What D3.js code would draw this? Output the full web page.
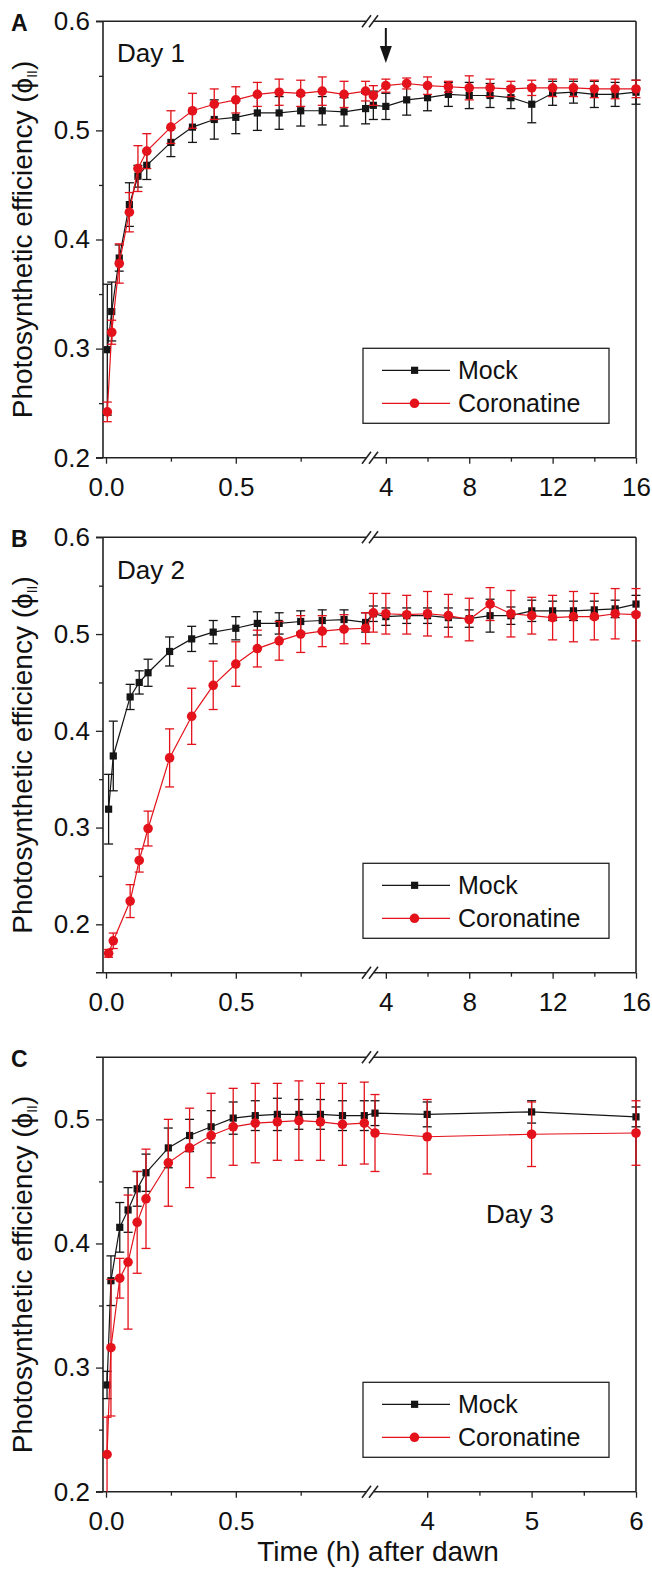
<!DOCTYPE html>
<html>
<head>
<meta charset="utf-8">
<script src="https://cdn.jsdelivr.net/npm/d3@7"></script>
<style>
  body { margin: 0; background: #fff; }
  text { font-family: "Liberation Sans", Arial, sans-serif; fill: #111; }
</style>
</head>
<body>
<svg id="chart" width="652" height="1569"></svg>
<script>
// ---- data (hours after dawn, phi II, +/- error) ----
var timesA = [0.005, 0.022, 0.051, 0.09, 0.123, 0.157, 0.25, 0.333, 0.417, 0.5, 0.583, 0.667, 0.75, 0.833, 0.917, 1.0,
  3.4, 4, 5, 6, 7, 8, 9, 10, 11, 12, 13, 14, 15, 16];
var mockA = [0.299, 0.334, 0.383, 0.432, 0.458, 0.468, 0.489, 0.503, 0.510, 0.512, 0.516, 0.516, 0.518, 0.518, 0.517, 0.520,
  0.523, 0.522, 0.528, 0.530, 0.533, 0.532, 0.532, 0.530, 0.524, 0.534, 0.535, 0.533, 0.533, 0.535];
var mockAErr = [0.060, 0.027, 0.012, 0.020, 0.010, 0.013, 0.013, 0.014, 0.018, 0.015, 0.016, 0.015, 0.014, 0.013, 0.013, 0.014,
  0.013, 0.012, 0.014, 0.012, 0.011, 0.012, 0.011, 0.010, 0.017, 0.011, 0.010, 0.012, 0.011, 0.011];
var coroA = [0.242, 0.315, 0.378, 0.425, 0.465, 0.481, 0.503, 0.518, 0.524, 0.528, 0.533, 0.535, 0.534, 0.536, 0.533, 0.536,
  0.532, 0.541, 0.543, 0.541, 0.540, 0.539, 0.539, 0.538, 0.539, 0.539, 0.539, 0.538, 0.538, 0.538];
var coroAErr = [0.009, 0.011, 0.018, 0.018, 0.021, 0.016, 0.015, 0.016, 0.014, 0.012, 0.011, 0.012, 0.012, 0.013, 0.012, 0.009,
  0.009, 0.006, 0.005, 0.008, 0.005, 0.011, 0.008, 0.007, 0.007, 0.008, 0.008, 0.008, 0.009, 0.008];

var timesB = [0.01, 0.028, 0.093, 0.128, 0.162, 0.245, 0.33, 0.413, 0.5, 0.583, 0.667, 0.75, 0.833, 0.917, 1.0,
  3.4, 4, 5, 6, 7, 8, 9, 10, 11, 12, 13, 14, 15, 16];
var mockB = [0.319, 0.374, 0.435, 0.450, 0.460, 0.482, 0.495, 0.502, 0.506, 0.511, 0.511, 0.513, 0.514, 0.515, 0.512,
  0.521, 0.518, 0.519, 0.519, 0.517, 0.516, 0.519, 0.519, 0.524, 0.524, 0.524, 0.525, 0.526, 0.531];
var mockBErr = [0.036, 0.036, 0.013, 0.012, 0.014, 0.015, 0.013, 0.012, 0.012, 0.012, 0.011, 0.011, 0.011, 0.010, 0.010,
  0.008, 0.009, 0.008, 0.008, 0.010, 0.009, 0.017, 0.009, 0.011, 0.010, 0.010, 0.009, 0.009, 0.009];
var coroB = [0.170, 0.183, 0.224, 0.266, 0.299, 0.372, 0.415, 0.447, 0.469, 0.485, 0.493, 0.500, 0.503, 0.505, 0.506,
  0.522, 0.521, 0.520, 0.521, 0.519, 0.515, 0.531, 0.521, 0.519, 0.517, 0.518, 0.518, 0.521, 0.520];
var coroBErr = [0.004, 0.008, 0.017, 0.012, 0.018, 0.030, 0.029, 0.025, 0.023, 0.019, 0.020, 0.019, 0.016, 0.015, 0.016,
  0.020, 0.021, 0.020, 0.023, 0.022, 0.022, 0.017, 0.024, 0.019, 0.023, 0.026, 0.024, 0.026, 0.027];

var timesC = [0.004, 0.019, 0.053, 0.085, 0.12, 0.154, 0.24, 0.322, 0.405, 0.49, 0.575, 0.66, 0.743, 0.826, 0.911, 0.995,
  3.5, 4, 5, 6];
var mockC = [0.286, 0.370, 0.413, 0.427, 0.444, 0.457, 0.477, 0.487, 0.494, 0.501, 0.503, 0.504, 0.504, 0.504, 0.503, 0.503,
  0.505, 0.504, 0.506, 0.502];
var mockCErr = [0.011, 0.020, 0.020, 0.018, 0.014, 0.015, 0.016, 0.013, 0.013, 0.013, 0.012, 0.013, 0.012, 0.012, 0.012, 0.012,
  0.010, 0.010, 0.009, 0.008];
var coroC = [0.230, 0.316, 0.372, 0.385, 0.417, 0.436, 0.465, 0.477, 0.487, 0.494, 0.497, 0.498, 0.499, 0.498, 0.496, 0.497,
  0.489, 0.486, 0.488, 0.489];
var coroCErr = [0.030, 0.055, 0.016, 0.054, 0.041, 0.040, 0.035, 0.032, 0.034, 0.031, 0.032, 0.031, 0.032, 0.031, 0.033, 0.033,
  0.031, 0.030, 0.026, 0.026];

var seriesNames = ["Mock", "Coronatine"];
var dayLabels = ["Day 1", "Day 2", "Day 3"];
var panelLetters = ["A", "B", "C"];
var leftTicks = [0, 0.5], leftMinor = [0.25, 0.75];
var rightTicksAB = [4, 8, 12, 16], rightMinorAB = [6, 10, 14];
var rightTicksC = [4, 5, 6], rightMinorC = [4.5, 5.5];

// ---- layout ----
var svg = d3.select("#chart");
var xL = 103, xBreak = 370, xR = 636;
var black = "#151515", red = "#e3121b", axisCol = "#222";

var panels = [
  { top: 21.3, bottom: 457.7, yDom: [0.2, 0.6], yTicks: [0.2, 0.3, 0.4, 0.5, 0.6], yMinor: [0.25, 0.35, 0.45, 0.55],
    rDom: [3.24, 16], rTicks: rightTicksAB, rMinor: rightMinorAB, t: timesA,
    mock: mockA, mockErr: mockAErr, coro: coroA, coroErr: coroAErr, dayX: 117, dayY: 62, arrow: 4 },
  { top: 537.3, bottom: 972.7, yDom: [0.15, 0.6], yTicks: [0.2, 0.3, 0.4, 0.5, 0.6], yMinor: [0.25, 0.35, 0.45, 0.55],
    rDom: [3.24, 16], rTicks: rightTicksAB, rMinor: rightMinorAB, t: timesB,
    mock: mockB, mockErr: mockBErr, coro: coroB, coroErr: coroBErr, dayX: 117, dayY: 579 },
  { top: 1057.3, bottom: 1491.7, yDom: [0.2, 0.55], yTicks: [0.2, 0.3, 0.4, 0.5], yMinor: [0.25, 0.35, 0.45],
    rDom: [3.452, 6], rTicks: rightTicksC, rMinor: rightMinorC, t: timesC,
    mock: mockC, mockErr: mockCErr, coro: coroC, coroErr: coroCErr, dayX: 486, dayY: 1223 }
];

panels.forEach(function (p, i) {
  var g = svg.append("g");
  var y = d3.scaleLinear().domain(p.yDom).range([p.bottom, p.top]);
  var xLeft = d3.scaleLinear().domain([-0.0116, 1.017]).range([xL, xBreak]);
  var xRight = d3.scaleLinear().domain(p.rDom).range([xBreak, xR]);
  var x = function (t) { return t < 2 ? xLeft(t) : xRight(t); };

  // y axis
  g.append("g").attr("transform", "translate(" + xL + ",0)")
    .call(d3.axisLeft(y).tickValues(p.yTicks).tickFormat(d3.format(".1f")).tickSize(7).tickPadding(6).tickSizeOuter(0));
  g.append("g").attr("transform", "translate(" + xL + ",0)")
    .call(d3.axisLeft(y).tickValues(p.yMinor).tickFormat("").tickSize(4).tickSizeOuter(0));

  // x axis (two segments)
  var xa = g.append("g").attr("transform", "translate(0," + p.bottom + ")");
  xa.append("g").call(d3.axisBottom(xLeft).tickValues(leftTicks).tickFormat(d3.format(".1f")).tickSize(6).tickPadding(14).tickSizeOuter(0));
  xa.append("g").call(d3.axisBottom(xLeft).tickValues(leftMinor).tickFormat("").tickSize(4).tickSizeOuter(0));
  xa.append("g").call(d3.axisBottom(xRight).tickValues(p.rTicks).tickFormat(d3.format("d")).tickSize(6).tickPadding(14).tickSizeOuter(0));
  xa.append("g").call(d3.axisBottom(xRight).tickValues(p.rMinor).tickFormat("").tickSize(4).tickSizeOuter(0));

  g.selectAll(".domain").remove();
  g.selectAll(".tick line").attr("stroke", axisCol).attr("stroke-width", 1.3);
  g.selectAll(".tick text").style("font-size", "26px").attr("fill", "#111");

  // frame with breaks
  var frame = g.append("g").attr("stroke", axisCol).attr("stroke-width", 1.6).attr("fill", "none");
  frame.append("line").attr("x1", xL).attr("x2", xL).attr("y1", p.top).attr("y2", p.bottom);
  frame.append("line").attr("x1", xR).attr("x2", xR).attr("y1", p.top).attr("y2", p.bottom);
  [p.top, p.bottom].forEach(function (yy) {
    frame.append("line").attr("x1", xL - 7).attr("x2", xBreak - 4).attr("y1", yy).attr("y2", yy);
    frame.append("line").attr("x1", xBreak + 4).attr("x2", xR).attr("y1", yy).attr("y2", yy);
    frame.append("line").attr("x1", xBreak - 8).attr("y1", yy + 6).attr("x2", xBreak + 1).attr("y2", yy - 6);
    frame.append("line").attr("x1", xBreak - 1).attr("y1", yy + 6).attr("x2", xBreak + 8).attr("y2", yy - 6);
  });

  // series
  var sets = [
    { v: p.mock, e: p.mockErr, col: black, shape: "square" },
    { v: p.coro, e: p.coroErr, col: red, shape: "circle" }
  ];
  sets.forEach(function (s) {
    var pts = p.t.map(function (t, k) { return { t: t, v: s.v[k], e: s.e[k] }; });
    g.append("path").datum(pts)
      .attr("fill", "none").attr("stroke", s.col).attr("stroke-width", 1.2)
      .attr("d", d3.line().x(function (d) { return x(d.t); }).y(function (d) { return y(d.v); }));
    var eb = g.append("g").attr("stroke", s.col).attr("stroke-width", 1.3);
    pts.forEach(function (d) {
      var cx = x(d.t), lo = y(Math.max(d.v - d.e, p.yDom[0])), hi = y(d.v + d.e);
      eb.append("line").attr("x1", cx).attr("x2", cx).attr("y1", lo).attr("y2", hi);
      eb.append("line").attr("x1", cx - 4.5).attr("x2", cx + 4.5).attr("y1", hi).attr("y2", hi);
      if (d.v - d.e > p.yDom[0]) eb.append("line").attr("x1", cx - 4.5).attr("x2", cx + 4.5).attr("y1", lo).attr("y2", lo);
    });
    if (s.shape === "square") {
      g.append("g").selectAll("rect").data(pts).enter().append("rect")
        .attr("x", function (d) { return x(d.t) - 3.6; }).attr("y", function (d) { return y(d.v) - 3.6; })
        .attr("width", 7.2).attr("height", 7.2).attr("fill", s.col);
    } else {
      g.append("g").selectAll("circle").data(pts).enter().append("circle")
        .attr("cx", function (d) { return x(d.t); }).attr("cy", function (d) { return y(d.v); })
        .attr("r", 4.8).attr("fill", s.col);
    }
  });

  // legend
  var lg = g.append("g").attr("transform", "translate(363," + (p.bottom - 109.4) + ")");
  lg.append("rect").attr("width", 246).attr("height", 75).attr("fill", "#fff").attr("stroke", axisCol).attr("stroke-width", 1.3);
  seriesNames.forEach(function (name, k) {
    var ly = 22 + k * 33;
    var col = k === 0 ? black : red;
    lg.append("line").attr("x1", 19).attr("x2", 87).attr("y1", ly).attr("y2", ly).attr("stroke", col).attr("stroke-width", 1.3);
    if (k === 0) lg.append("rect").attr("x", 48).attr("y", ly - 3.6).attr("width", 7.2).attr("height", 7.2).attr("fill", col);
    else lg.append("circle").attr("cx", 51.5).attr("cy", ly).attr("r", 4.8).attr("fill", col);
    lg.append("text").attr("x", 95).attr("y", ly).attr("dy", "0.36em").style("font-size", "25px").text(name);
  });

  // day label and panel letter
  g.append("text").attr("x", p.dayX).attr("y", p.dayY).style("font-size", "26px").text(dayLabels[i]);
  g.append("text").attr("x", 11).attr("y", p.top + 10).style("font-size", "23px").style("font-weight", "bold").text(panelLetters[i]);

  // y title
  var cy = (p.top + p.bottom) / 2;
  var yt = g.append("text").attr("transform", "translate(32," + cy + ") rotate(-90)")
    .attr("text-anchor", "middle").style("font-size", "28px");
  yt.append("tspan").text("Photosynthetic efficiency (\u03d5");
  yt.append("tspan").attr("dy", 5).style("font-size", "14px").text("II");
  yt.append("tspan").attr("dy", -5).text(")");

  // arrow marking the time point in panel A
  if (p.arrow) {
    var ax = xRight(p.arrow);
    g.append("line").attr("x1", ax).attr("x2", ax).attr("y1", 28).attr("y2", 50).attr("stroke", black).attr("stroke-width", 2);
    g.append("path").attr("d", "M" + (ax - 6) + ",46 L" + (ax + 6) + ",46 L" + ax + ",63 Z").attr("fill", black);
  }
});

// x title
svg.append("text").attr("x", 378).attr("y", 1561).attr("text-anchor", "middle").style("font-size", "28px").text("Time (h) after dawn");
</script>
</body>
</html>
